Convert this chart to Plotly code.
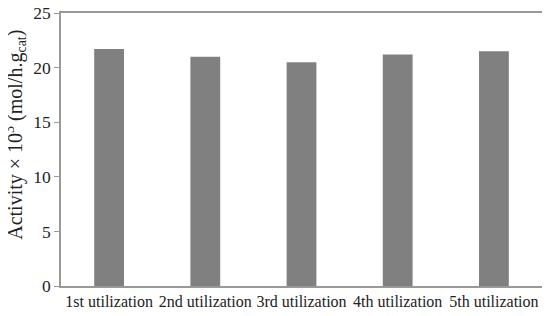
import plotly.graph_objects as go

# reusability runs
runs = ['1st utilization', '2nd utilization', '3rd utilization', '4th utilization', '5th utilization']
activity = [21.7, 21.0, 20.5, 21.2, 21.5]

fig = go.Figure()
fig.add_trace(go.Bar(x=runs, y=activity, marker_color='#808080', marker_line_width=0))

# page body adds ~8px offset, so margins are shifted to compensate
fig.update_layout(
    width=550, height=316,
    margin=dict(l=53, r=16, t=5, b=38),
    plot_bgcolor='white', paper_bgcolor='white',
    font=dict(family='Liberation Serif', size=17, color='#222'),
    bargap=0.69, showlegend=False,
)
fig.update_xaxes(showline=True, linecolor='#999', linewidth=1.5, mirror=True,
                 ticks='', tickangle=0, tickfont=dict(size=16), automargin=False)
fig.update_yaxes(range=[0, 25], dtick=5, showgrid=False, zeroline=False,
                 showline=True, linecolor='#999', linewidth=1.5, mirror=True,
                 ticks='outside', ticklen=5, tickcolor='#999', automargin=False,
                 ticklabeloverflow='allow', tickfont=dict(size=17.5))

# y axis title as annotation to pin its position
fig.add_annotation(text='Activity × 10<sup>3</sup> (mol/h.g<sub>cat</sub>)',
                   xref='paper', yref='paper', x=-0.093, y=0.555, textangle=-90,
                   showarrow=False, xanchor='center', yanchor='middle',
                   font=dict(size=20))

fig.write_html("out.html")
